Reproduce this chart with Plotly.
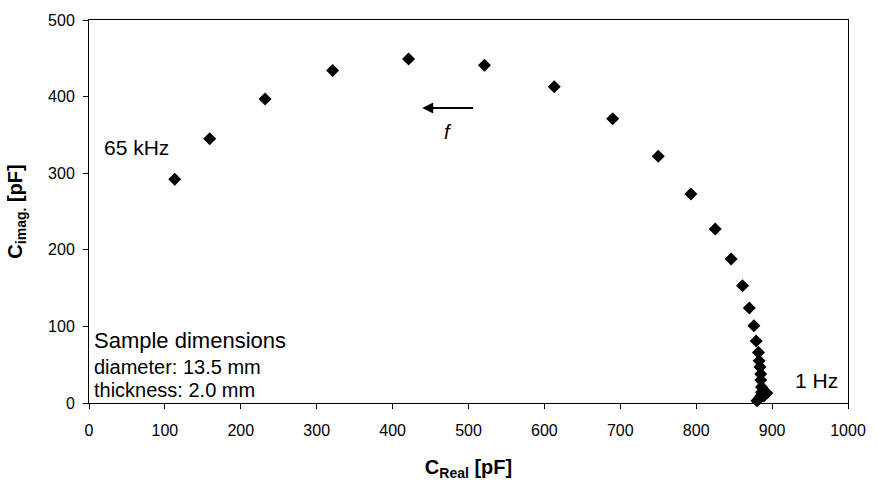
import plotly.graph_objects as go

c_real = [113, 159, 232, 321, 421, 521, 613, 690, 750, 793, 825, 846, 861, 870, 876,
          879, 882, 883, 884, 885, 885, 886, 886, 885, 883, 880, 889, 893]
c_imag = [292, 345, 397, 434, 449, 441, 413, 371, 322, 273, 227, 188, 153, 124, 101,
          81, 66, 55, 47, 38, 30, 21, 14, 9, 6, 3, 9, 13]

x_ticks = [0, 100, 200, 300, 400, 500, 600, 700, 800, 900, 1000]
y_ticks = [0, 100, 200, 300, 400, 500]

fig = go.Figure()
fig.add_trace(go.Scatter(
    x=c_real, y=c_imag, mode="markers",
    marker=dict(symbol="diamond", size=10, color="black", line=dict(width=0)),
    showlegend=False, cliponaxis=False,
))

font = "Arial, Liberation Sans, sans-serif"
fig.add_annotation(x=62, y=333, text="65 kHz", showarrow=False,
                   font=dict(family=font, size=21, color="black"))
fig.add_annotation(x=927, y=29, text="1 Hz", showarrow=False, xanchor="left",
                   font=dict(family=font, size=21, color="black"))
fig.add_annotation(x=439, y=385, ax=508, ay=385, axref="x", ayref="y",
                   text="", showarrow=True, arrowhead=2, arrowsize=1.1, arrowwidth=2,
                   arrowcolor="black")
fig.add_annotation(x=473, y=354, text="<i>f</i>", showarrow=False,
                   font=dict(family=font, size=20, color="black"))
fig.add_annotation(x=4, y=81, text="Sample dimensions", showarrow=False, xanchor="left",
                   font=dict(family=font, size=22, color="black"))
fig.add_annotation(x=4, y=47, text="diameter: 13.5 mm", showarrow=False, xanchor="left",
                   font=dict(family=font, size=20, color="black"))
fig.add_annotation(x=4, y=17, text="thickness: 2.0 mm", showarrow=False, xanchor="left",
                   font=dict(family=font, size=20, color="black"))

fig.update_xaxes(
    range=[0, 1000], tickvals=x_ticks, ticktext=[str(v) for v in x_ticks],
    showgrid=False, zeroline=False, showline=True, linecolor="black", linewidth=1,
    mirror=True, ticks="outside", ticklen=5, tickcolor="black",
    ticklabelstandoff=8,
    tickfont=dict(family=font, size=16, color="black"),
    title=dict(text="<b>C<sub>Real</sub> [pF]</b>", font=dict(family=font, size=20, color="black"),
               standoff=21),
)
fig.update_yaxes(
    range=[0, 500], tickvals=y_ticks, ticktext=[str(v) for v in y_ticks],
    showgrid=False, zeroline=False, showline=True, linecolor="black", linewidth=1,
    mirror=True, ticks="outside", ticklen=5, tickcolor="black",
    ticklabelstandoff=5,
    tickfont=dict(family=font, size=16, color="black"),
    title=dict(text="<b>C<sub>imag.</sub> [pF]</b>", font=dict(family=font, size=20, color="black"),
               standoff=20),
)
fig.update_layout(
    width=878, height=487,
    margin=dict(l=89, r=23, t=13, b=84),
    paper_bgcolor="white", plot_bgcolor="white",
)
fig.write_html("out.html")
